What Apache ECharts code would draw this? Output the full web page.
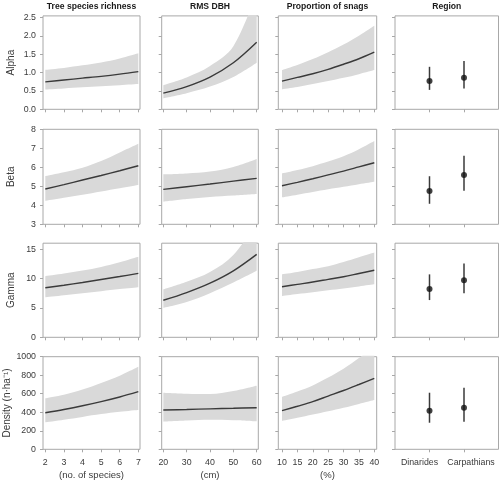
<!DOCTYPE html>
<html><head><meta charset="utf-8">
<script src="https://cdn.jsdelivr.net/npm/echarts@6/dist/echarts.min.js"></script>
<style>html,body{margin:0;padding:0;background:#fff}#c{width:500px;height:484px}</style>
</head><body><div id="c"></div>
<script>
// ---------- labels ----------
const colTitles = ['Tree species richness', 'RMS DBH', 'Proportion of snags', 'Region'];
const rowNames = ['Alpha', 'Beta', 'Gamma', 'Density (n·ha⁻¹)'];
const xUnits = ['(no. of species)', '(cm)', '(%)', ''];
const regionCats = ['Dinarides', 'Carpathians'];

// ---------- x values / ticks ----------
const xRich = [2, 3, 4, 5, 6, 7];
const xDbh = [20, 30, 40, 50, 60];
const xSnag = [10, 15, 20, 25, 30, 35, 40];
const xRegion = [1, 2];
const xTicksRich = [2, 3, 4, 5, 6, 7];
const xTicksDbh = [20, 30, 40, 50, 60];
const xTicksSnag = [10, 15, 20, 25, 30, 35, 40];
const xTicksRegion = [1, 2];

// ---------- y ticks ----------
const yTicksAlpha = [0, 0.5, 1, 1.5, 2, 2.5];
const yTicksBeta = [3, 4, 5, 6, 7, 8];
const yTicksGamma = [0, 5, 10, 15];
const yTicksDensity = [0, 200, 400, 600, 800, 1000];

// ---------- Alpha ----------
const alphaRichFit = [0.75, 0.80, 0.85, 0.90, 0.96, 1.03];
const alphaRichUp  = [1.08, 1.13, 1.20, 1.28, 1.39, 1.53];
const alphaRichLo  = [0.54, 0.57, 0.60, 0.63, 0.66, 0.69];
const alphaDbhFit = [0.44, 0.62, 0.88, 1.27, 1.83];
const alphaDbhUp  = [0.66, 0.87, 1.18, 1.72, 3.20];
const alphaDbhLo  = [0.30, 0.44, 0.62, 0.88, 1.27];
const alphaSnagFit = [0.77, 0.87, 0.97, 1.09, 1.23, 1.38, 1.56];
const alphaSnagUp  = [1.07, 1.21, 1.37, 1.56, 1.77, 2.01, 2.28];
const alphaSnagLo  = [0.55, 0.61, 0.69, 0.77, 0.86, 0.96, 1.07];
const alphaRegionPt = [0.77, 0.86];
const alphaRegionUp = [1.16, 1.32];
const alphaRegionLo = [0.53, 0.57];

// ---------- Beta ----------
const betaRichFit = [4.86, 5.09, 5.33, 5.57, 5.82, 6.08];
const betaRichUp  = [5.54, 5.74, 5.98, 6.33, 6.78, 7.24];
const betaRichLo  = [4.24, 4.40, 4.56, 4.73, 4.90, 5.07];
const betaDbhFit = [4.84, 4.98, 5.12, 5.27, 5.42];
const betaDbhUp  = [5.63, 5.68, 5.78, 6.02, 6.44];
const betaDbhLo  = [4.19, 4.33, 4.44, 4.52, 4.60];
const betaSnagFit = [5.03, 5.21, 5.40, 5.60, 5.80, 6.02, 6.24];
const betaSnagUp  = [5.68, 5.86, 6.06, 6.30, 6.58, 6.95, 7.38];
const betaSnagLo  = [4.42, 4.56, 4.70, 4.84, 4.97, 5.11, 5.24];
const betaRegionPt = [4.75, 5.60];
const betaRegionUp = [5.53, 6.61];
const betaRegionLo = [4.08, 4.77];

// ---------- Gamma ----------
const gammaRichFit = [8.42, 8.86, 9.32, 9.82, 10.33, 10.87];
const gammaRichUp  = [10.4, 10.85, 11.35, 11.95, 12.75, 13.7];
const gammaRichLo  = [6.8, 7.15, 7.5, 7.85, 8.2, 8.5];
const gammaDbhFit = [6.3, 7.6, 9.2, 11.3, 14.1];
const gammaDbhUp  = [8.15, 9.44, 11.1, 14.0, 19.5];
const gammaDbhLo  = [5.0, 6.0, 7.5, 9.3, 11.3];
const gammaSnagFit = [8.6, 9.0, 9.4, 9.85, 10.3, 10.85, 11.4];
const gammaSnagUp  = [10.7, 11.1, 11.6, 12.1, 12.8, 13.6, 14.4];
const gammaSnagLo  = [7.0, 7.35, 7.65, 8.0, 8.3, 8.65, 9.0];
const gammaRegionPt = [8.2, 9.68];
const gammaRegionUp = [10.7, 12.56];
const gammaRegionLo = [6.33, 7.47];

// ---------- Density ----------
const densRichFit = [395, 430, 470, 515, 565, 622];
const densRichUp  = [551, 590, 645, 715, 795, 892];
const densRichLo  = [292, 320, 350, 380, 405, 424];
const densDbhFit = [424, 430, 437, 443, 449];
const densDbhUp  = [611, 600, 597, 630, 687];
const densDbhLo  = [298, 310, 318, 314, 302];
const densSnagFit = [417, 465, 515, 575, 635, 700, 767];
const densSnagUp  = [568, 625, 690, 775, 870, 985, 1120];
const densSnagLo  = [306, 340, 375, 410, 448, 490, 532];
const densRegionPt = [417, 449];
const densRegionUp = [611, 665];
const densRegionLo = [287, 298];

// ---------- assembly ----------
const xVals = [xRich, xDbh, xSnag];
const xTicks = [xTicksRich, xTicksDbh, xTicksSnag, xTicksRegion];
const yTicks = [yTicksAlpha, yTicksBeta, yTicksGamma, yTicksDensity];
const curves = [
  [[alphaRichFit, alphaRichUp, alphaRichLo], [alphaDbhFit, alphaDbhUp, alphaDbhLo], [alphaSnagFit, alphaSnagUp, alphaSnagLo]],
  [[betaRichFit, betaRichUp, betaRichLo], [betaDbhFit, betaDbhUp, betaDbhLo], [betaSnagFit, betaSnagUp, betaSnagLo]],
  [[gammaRichFit, gammaRichUp, gammaRichLo], [gammaDbhFit, gammaDbhUp, gammaDbhLo], [gammaSnagFit, gammaSnagUp, gammaSnagLo]],
  [[densRichFit, densRichUp, densRichLo], [densDbhFit, densDbhUp, densDbhLo], [densSnagFit, densSnagUp, densSnagLo]]
];
const regions = [
  [alphaRegionPt, alphaRegionUp, alphaRegionLo],
  [betaRegionPt, betaRegionUp, betaRegionLo],
  [gammaRegionPt, gammaRegionUp, gammaRegionLo],
  [densRegionPt, densRegionUp, densRegionLo]
];

// layout (pixels)
const colL = [43, 161.7, 278.3, 395];
const colR = [140, 258.3, 376.7, 498.5];
const rowT = [15.9, 129.3, 243.2, 356.7];
const rowB = [109.3, 224.3, 337.3, 449.3];
const xMin = [1.876, 19.31, 8.8, 0];
const xMax = [7.09, 60.69, 40.78, 3];
const yMin = [0, 3, 0, 0];
const yMax = [2.55, 8, 16, 1000];

const FONT = 'Liberation Sans, Arial, Helvetica, sans-serif';
const BAND = '#d9d9d9';
const LINE = '#3a3a3a';
const BOX = '#a8a8a8';
const TXT = '#3a3a3a';

const grids = [], xAxes = [], yAxes = [], series = [], graphics = [];
for (let r = 0; r < 4; r++) {
  for (let c = 0; c < 4; c++) {
    const i = r * 4 + c;
    grids.push({left: colL[c], top: rowT[r], width: colR[c] - colL[c], height: rowB[r] - rowT[r],
      show: true, borderColor: BOX, borderWidth: 1, backgroundColor: 'transparent', containLabel: false, outerBoundsMode: 'none'});
    xAxes.push({type: 'value', gridIndex: i, min: xMin[c], max: xMax[c],
      axisLine: {show: false}, splitLine: {show: false},
      axisTick: {show: true, inside: false, length: 3, lineStyle: {color: BOX}, customValues: xTicks[c]},
      axisLabel: {show: r === 3, customValues: xTicks[c], fontSize: 8.8, color: TXT, fontFamily: FONT, margin: 9,
        hideOverlap: false, showMinLabel: true, showMaxLabel: true,
        formatter: c === 3 ? (v => (Math.round(v) === 1 ? '{l|' : '{r|') + regionCats[Math.round(v) - 1] + '}') : (v => String(v)),
        rich: {l: {fontSize: 8.8, color: TXT, fontFamily: FONT, padding: [0, 20, 0, 0]},
               r: {fontSize: 8.8, color: TXT, fontFamily: FONT, padding: [0, 0, 0, 14]}}},
      name: r === 3 ? xUnits[c] : '', nameLocation: 'middle', nameGap: 21,
      nameTextStyle: {fontSize: 9.5, color: TXT, fontFamily: FONT}});
    yAxes.push({type: 'value', gridIndex: i, min: yMin[r], max: yMax[r],
      axisLine: {show: false}, splitLine: {show: false},
      axisTick: {show: true, inside: false, length: 3, lineStyle: {color: BOX}, customValues: yTicks[r]},
      axisLabel: {show: c === 0, customValues: yTicks[r], fontSize: 8.8, color: TXT, fontFamily: FONT, margin: 7,
        formatter: r === 0 ? (v => v.toFixed(1)) : (v => String(v))},
      name: c === 0 ? rowNames[r] : '', nameLocation: 'middle', nameGap: 27, nameRotate: 90,
      nameTextStyle: {fontSize: 10, color: TXT, fontFamily: FONT}});
    if (c < 3) {
      const xs = xVals[c];
      const [fit, up, lo] = curves[r][c];
      const sm = 0.35;
      // data as [y, x] so the y value is the stacked dimension
      series.push({type: 'line', xAxisIndex: i, yAxisIndex: i, stack: 'band' + i, symbol: 'none', smooth: sm,
        silent: true, lineStyle: {opacity: 0}, encode: {x: 1, y: 0},
        data: xs.map((x, k) => [lo[k], x]), z: 1});
      series.push({type: 'line', xAxisIndex: i, yAxisIndex: i, stack: 'band' + i, symbol: 'none', smooth: sm,
        silent: true, lineStyle: {opacity: 0}, areaStyle: {color: BAND, opacity: 1}, encode: {x: 1, y: 0},
        data: xs.map((x, k) => [up[k] - lo[k], x]), z: 1});
      series.push({type: 'line', xAxisIndex: i, yAxisIndex: i, symbol: 'none', smooth: sm, silent: true,
        lineStyle: {color: LINE, width: 1.4}, data: xs.map((x, k) => [x, fit[k]]), z: 3});
    } else {
      const [pt, up, lo] = regions[r];
      series.push({type: 'custom', xAxisIndex: i, yAxisIndex: i, silent: true,
        data: xRegion.map((x, k) => [x, lo[k], up[k]]), encode: {x: 0, y: [1, 2]},
        renderItem: (p, api) => {
          const a = api.coord([api.value(0), api.value(1)]);
          const b = api.coord([api.value(0), api.value(2)]);
          return {type: 'line', shape: {x1: a[0], y1: a[1], x2: b[0], y2: b[1]}, style: {stroke: '#3a3a3a', lineWidth: 1.5}};
        }, z: 2});
      series.push({type: 'scatter', xAxisIndex: i, yAxisIndex: i, silent: true, symbol: 'circle', symbolSize: 6,
        itemStyle: {color: '#111'}, data: xRegion.map((x, k) => [x, pt[k]]), z: 4});
    }
  }
}
for (let c = 0; c < 4; c++) {
  graphics.push({type: 'text', x: (colL[c] + colR[c]) / 2, y: 7,
    style: {text: colTitles[c], align: 'center', verticalAlign: 'middle', fontSize: 8.6, fontWeight: 'bold',
      fill: '#1a1a1a', fontFamily: FONT}});
}

const chart = echarts.init(document.getElementById('c'), null, {renderer: 'canvas'});
chart.setOption({
  animation: false,
  backgroundColor: '#fff',
  grid: grids, xAxis: xAxes, yAxis: yAxes, series: series, graphic: graphics
});
</script></body></html>
